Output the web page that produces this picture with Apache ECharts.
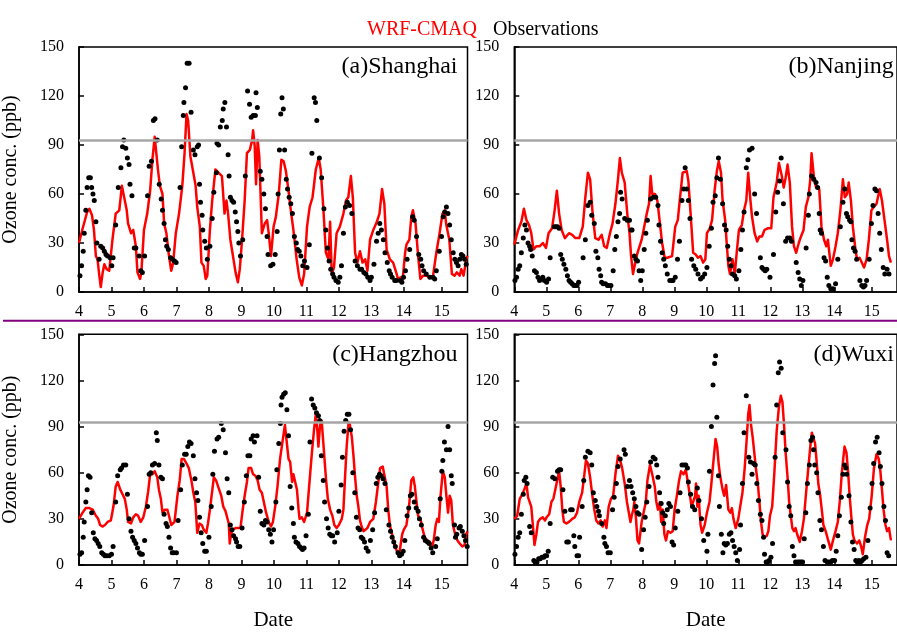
<!DOCTYPE html>
<html>
<head>
<meta charset="utf-8">
<script src="https://cdn.jsdelivr.net/npm/echarts@6/dist/echarts.min.js"></script>
<style>
  html, body { margin: 0; padding: 0; background: #fff; }
  #chart { width: 897px; height: 632px; }
</style>
</head>
<body>
<div id="chart"></div>
<script>
// Day-of-month ticks on the time axis (the last one sits a little past noon of the 15th)
const dayTicks = [4, 5, 6, 7, 8, 9, 10, 11, 12, 13, 14, 15.17];
const dayTickLabels = ['4', '5', '6', '7', '8', '9', '10', '11', '12', '13', '14', '15'];
const dayMin = 4;
const dayMax = 15.96;

// Ozone axis (ppb) and the hourly standard line
const ozoneMin = 0;
const ozoneMax = 150;
const ozoneStep = 30;
const standardPpb = 93;

const stationTitles = ['(a)Shanghai', '(b)Nanjing', '(c)Hangzhou', '(d)Wuxi'];
const modelName = 'WRF-CMAQ';
const obsName = 'Observations';

// [day, ppb] — simulated (WRF-CMAQ) and observed ozone, per station
const shanghaiModel = [[4.00,30],[4.10,38],[4.25,49],[4.32,51],[4.40,47],[4.46,38],[4.52,22],[4.57,20],[4.62,11],[4.67,3],[4.73,12],[4.78,17],[4.85,14],[4.93,13],[5.03,32],[5.13,48],[5.24,50],[5.32,65],[5.41,56],[5.47,50],[5.51,42],[5.60,36],[5.67,38],[5.75,28],[5.80,12],[5.88,8],[5.92,12],[6.00,38],[6.10,48],[6.19,62],[6.26,81],[6.33,95],[6.39,83],[6.43,75],[6.49,65],[6.57,60],[6.62,42],[6.69,36],[6.77,22],[6.84,13],[6.90,18],[6.98,36],[7.08,48],[7.18,65],[7.25,85],[7.31,109],[7.36,105],[7.43,83],[7.52,73],[7.59,65],[7.64,52],[7.72,40],[7.77,18],[7.84,16],[7.90,8],[7.95,10],[8.03,38],[8.10,56],[8.20,75],[8.30,73],[8.40,71],[8.48,48],[8.54,56],[8.59,48],[8.66,32],[8.74,22],[8.82,12],[8.89,6],[8.95,14],[9.02,32],[9.10,56],[9.17,85],[9.26,87],[9.33,93],[9.36,99],[9.41,89],[9.45,66],[9.50,93],[9.55,83],[9.63,36],[9.72,42],[9.79,44],[9.84,36],[9.91,22],[9.99,40],[10.06,46],[10.15,60],[10.23,81],[10.30,80],[10.37,74],[10.45,62],[10.52,50],[10.60,38],[10.70,20],[10.78,9],[10.86,4],[10.93,11],[11.02,40],[11.10,52],[11.19,58],[11.29,75],[11.38,82],[11.44,75],[11.52,52],[11.60,24],[11.68,20],[11.73,43],[11.78,11],[11.85,15],[11.93,36],[12.03,40],[12.14,48],[12.22,56],[12.29,58],[12.37,71],[12.43,58],[12.50,24],[12.57,18],[12.65,25],[12.73,18],[12.81,20],[12.88,13],[12.96,32],[13.06,38],[13.17,43],[13.25,48],[13.33,63],[13.40,54],[13.47,26],[13.57,20],[13.67,18],[13.75,13],[13.82,8],[13.90,9],[13.96,7],[14.04,24],[14.08,29],[14.17,32],[14.23,46],[14.28,50],[14.36,42],[14.44,22],[14.51,8],[14.59,10],[14.69,10],[14.80,9],[14.90,10],[15.00,24],[15.10,36],[15.19,48],[15.26,50],[15.30,42],[15.40,32],[15.48,11],[15.56,10],[15.63,12],[15.72,10],[15.77,14],[15.84,10],[15.92,20],[15.96,22]];
const shanghaiObs = [[4.03,10],[4.08,16],[4.13,25],[4.16,36],[4.21,50],[4.25,64],[4.30,70],[4.35,70],[4.39,64],[4.43,60],[4.47,56],[4.52,43],[4.55,30],[4.62,20],[4.67,28],[4.73,27],[4.78,25],[4.83,23],[4.88,22],[4.96,21],[5.01,16],[5.05,21],[5.13,41],[5.21,64],[5.29,76],[5.34,89],[5.38,93],[5.44,88],[5.49,82],[5.54,78],[5.57,66],[5.63,59],[5.70,27],[5.75,27],[5.85,22],[5.90,13],[5.95,12],[6.02,22],[6.11,59],[6.16,77],[6.23,80],[6.29,105],[6.34,106],[6.41,93],[6.47,66],[6.53,57],[6.57,50],[6.62,42],[6.66,32],[6.70,28],[6.75,26],[6.82,21],[6.87,20],[6.94,19],[6.99,18],[7.11,64],[7.16,89],[7.21,108],[7.23,116],[7.28,125],[7.33,140],[7.39,140],[7.45,110],[7.52,87],[7.57,84],[7.64,89],[7.68,90],[7.71,66],[7.74,55],[7.79,47],[7.81,38],[7.87,31],[7.92,27],[7.95,20],[8.03,28],[8.10,45],[8.15,61],[8.23,73],[8.25,91],[8.30,90],[8.35,101],[8.41,105],[8.44,112],[8.49,116],[8.54,101],[8.59,84],[8.62,71],[8.66,58],[8.71,56],[8.76,55],[8.81,49],[8.85,43],[8.89,37],[8.92,30],[8.97,22],[9.04,32],[9.12,71],[9.19,123],[9.25,115],[9.30,107],[9.36,108],[9.43,108],[9.45,122],[9.49,113],[9.58,74],[9.63,69],[9.69,60],[9.74,51],[9.79,34],[9.82,23],[9.90,16],[9.97,17],[10.04,23],[10.10,37],[10.13,60],[10.17,87],[10.21,109],[10.25,119],[10.29,112],[10.33,87],[10.38,69],[10.42,63],[10.47,58],[10.52,54],[10.57,48],[10.63,34],[10.69,30],[10.73,26],[10.78,25],[10.83,22],[10.89,16],[10.94,19],[11.02,15],[11.09,29],[11.17,85],[11.24,119],[11.28,116],[11.32,105],[11.40,82],[11.47,70],[11.54,51],[11.60,38],[11.65,27],[11.70,19],[11.75,14],[11.81,11],[11.85,9],[11.91,7],[11.98,6],[12.03,9],[12.08,16],[12.14,36],[12.20,52],[12.26,55],[12.33,53],[12.40,48],[12.50,19],[12.57,16],[12.65,14],[12.70,14],[12.77,12],[12.83,11],[12.89,9],[12.96,7],[13.00,9],[13.08,17],[13.16,31],[13.21,36],[13.26,42],[13.31,38],[13.37,32],[13.42,24],[13.49,18],[13.55,13],[13.59,11],[13.64,9],[13.72,7],[13.77,7],[13.89,7],[13.94,6],[13.99,9],[14.05,13],[14.10,20],[14.18,26],[14.27,46],[14.32,44],[14.39,34],[14.46,23],[14.52,20],[14.56,16],[14.61,13],[14.69,11],[14.80,9],[14.90,9],[14.95,8],[15.00,13],[15.09,25],[15.16,34],[15.21,46],[15.26,49],[15.31,52],[15.36,48],[15.41,41],[15.46,32],[15.52,24],[15.57,20],[15.62,18],[15.67,16],[15.72,20],[15.77,23],[15.82,22],[15.87,20],[15.92,17]];

const nanjingModel = [[4.00,29],[4.12,38],[4.22,43],[4.30,51],[4.38,44],[4.46,41],[4.53,36],[4.60,26],[4.69,28],[4.79,28],[4.89,30],[4.99,27],[5.07,36],[5.18,39],[5.26,50],[5.33,62],[5.40,48],[5.48,38],[5.58,33],[5.71,36],[5.81,35],[5.91,33],[6.03,33],[6.14,40],[6.22,58],[6.30,73],[6.37,69],[6.44,50],[6.53,33],[6.63,32],[6.73,35],[6.81,28],[6.89,27],[6.99,36],[7.07,42],[7.16,54],[7.24,69],[7.30,82],[7.36,73],[7.45,67],[7.53,48],[7.60,36],[7.65,22],[7.71,11],[7.78,18],[7.85,24],[7.90,24],[7.98,32],[8.06,40],[8.14,48],[8.21,54],[8.26,71],[8.31,60],[8.40,60],[8.47,56],[8.54,44],[8.62,30],[8.70,21],[8.78,21],[8.93,22],[9.03,40],[9.11,44],[9.18,58],[9.26,73],[9.32,73],[9.39,74],[9.44,68],[9.51,48],[9.59,24],[9.67,23],[9.74,21],[9.82,22],[9.90,18],[9.97,20],[10.02,36],[10.11,39],[10.18,44],[10.26,62],[10.33,74],[10.39,80],[10.46,73],[10.51,56],[10.59,44],[10.63,32],[10.69,16],[10.74,11],[10.82,20],[10.89,11],[10.95,24],[11.02,38],[11.11,41],[11.18,50],[11.25,56],[11.31,73],[11.38,56],[11.43,46],[11.51,36],[11.59,31],[11.66,34],[11.74,34],[11.82,38],[11.92,39],[12.03,39],[12.10,58],[12.20,67],[12.27,79],[12.36,71],[12.42,64],[12.48,70],[12.54,78],[12.61,67],[12.68,40],[12.74,28],[12.81,24],[12.89,30],[12.96,34],[13.04,38],[13.11,52],[13.19,58],[13.25,69],[13.29,85],[13.36,71],[13.43,64],[13.48,65],[13.53,63],[13.60,40],[13.68,32],[13.75,28],[13.80,32],[13.89,16],[13.96,20],[14.04,28],[14.11,36],[14.19,50],[14.27,69],[14.33,58],[14.40,60],[14.45,67],[14.52,56],[14.58,40],[14.65,28],[14.71,20],[14.79,21],[14.86,18],[14.93,15],[15.01,20],[15.08,32],[15.16,50],[15.23,52],[15.32,54],[15.42,63],[15.49,56],[15.57,44],[15.65,32],[15.71,22],[15.77,18]];
const nanjingObs = [[4.02,7],[4.07,9],[4.12,14],[4.17,16],[4.22,24],[4.28,33],[4.33,41],[4.38,38],[4.43,30],[4.48,28],[4.51,26],[4.56,22],[4.63,13],[4.69,12],[4.74,9],[4.79,7],[4.84,8],[4.89,9],[4.94,7],[5.01,6],[5.07,8],[5.12,21],[5.25,40],[5.30,40],[5.35,40],[5.40,39],[5.45,23],[5.50,20],[5.55,17],[5.61,14],[5.66,10],[5.71,7],[5.76,6],[5.81,5],[5.86,4],[5.91,4],[5.96,4],[6.01,6],[6.15,21],[6.22,32],[6.30,53],[6.37,55],[6.42,47],[6.50,42],[6.55,25],[6.61,21],[6.65,14],[6.70,10],[6.73,6],[6.78,5],[6.85,5],[6.91,4],[6.95,4],[7.02,4],[7.09,13],[7.14,26],[7.19,34],[7.24,43],[7.29,48],[7.32,61],[7.37,57],[7.45,45],[7.53,44],[7.60,44],[7.65,38],[7.68,38],[7.75,22],[7.80,20],[7.85,19],[7.90,13],[7.95,7],[8.00,13],[8.06,26],[8.11,36],[8.16,44],[8.26,57],[8.34,58],[8.42,58],[8.49,53],[8.52,41],[8.57,31],[8.62,24],[8.67,20],[8.72,16],[8.78,11],[8.86,7],[8.93,7],[8.96,7],[9.03,9],[9.10,20],[9.16,31],[9.24,56],[9.29,63],[9.34,76],[9.39,63],[9.44,56],[9.49,45],[9.54,20],[9.61,16],[9.67,14],[9.74,11],[9.82,8],[9.88,9],[9.95,11],[10.02,15],[10.09,28],[10.16,39],[10.21,55],[10.28,59],[10.33,70],[10.38,82],[10.44,69],[10.51,54],[10.57,41],[10.62,38],[10.67,28],[10.72,20],[10.77,16],[10.82,11],[10.89,10],[10.94,8],[11.02,13],[11.08,26],[11.13,38],[11.18,49],[11.25,76],[11.30,81],[11.35,87],[11.43,88],[11.51,60],[11.57,48],[11.69,21],[11.74,15],[11.79,14],[11.84,13],[11.89,14],[11.99,9],[12.10,23],[12.17,49],[12.23,61],[12.29,68],[12.34,82],[12.41,54],[12.48,31],[12.54,33],[12.61,33],[12.66,31],[12.81,18],[12.87,12],[12.92,8],[12.97,4],[13.02,7],[13.12,27],[13.19,47],[13.22,60],[13.29,71],[13.36,69],[13.43,67],[13.48,64],[13.53,48],[13.56,38],[13.60,36],[13.68,21],[13.73,19],[13.78,9],[13.83,4],[13.89,2],[13.96,2],[14.04,5],[14.11,20],[14.19,40],[14.27,55],[14.33,63],[14.38,48],[14.42,46],[14.48,44],[14.52,43],[14.55,32],[14.60,27],[14.65,25],[14.70,20],[14.80,7],[14.86,4],[14.91,3],[14.96,4],[15.01,7],[15.09,20],[15.16,42],[15.21,53],[15.27,63],[15.32,62],[15.37,48],[15.42,36],[15.47,26],[15.53,15],[15.58,11],[15.65,14],[15.71,11]];

const hangzhouModel = [[4.00,30],[4.11,34],[4.21,37],[4.32,37],[4.42,36],[4.52,32],[4.59,30],[4.65,26],[4.73,25],[4.80,26],[4.88,28],[4.98,29],[5.06,38],[5.13,51],[5.19,54],[5.27,49],[5.34,46],[5.41,43],[5.47,36],[5.51,28],[5.60,27],[5.67,31],[5.75,33],[5.82,32],[5.90,28],[5.98,31],[6.06,38],[6.13,48],[6.19,59],[6.26,59],[6.33,61],[6.41,57],[6.46,49],[6.52,43],[6.57,34],[6.64,36],[6.72,36],[6.77,32],[6.84,26],[6.90,25],[6.94,28],[7.03,45],[7.10,55],[7.16,69],[7.23,69],[7.31,66],[7.38,63],[7.46,55],[7.52,47],[7.58,41],[7.64,21],[7.71,27],[7.78,26],[7.84,23],[7.92,21],[7.97,27],[8.03,36],[8.10,48],[8.15,57],[8.22,55],[8.30,50],[8.38,45],[8.44,38],[8.51,35],[8.56,36],[8.61,27],[8.64,14],[8.68,20],[8.73,23],[8.82,24],[8.89,24],[8.97,24],[9.04,36],[9.10,45],[9.17,54],[9.22,63],[9.30,63],[9.36,59],[9.43,58],[9.50,55],[9.56,49],[9.63,47],[9.69,41],[9.76,34],[9.84,28],[9.91,25],[9.97,28],[10.04,38],[10.11,51],[10.19,69],[10.27,81],[10.34,91],[10.40,79],[10.45,69],[10.50,67],[10.56,54],[10.60,59],[10.66,60],[10.71,49],[10.76,36],[10.79,30],[10.86,31],[10.93,28],[11.02,34],[11.10,55],[11.17,73],[11.24,89],[11.29,98],[11.34,87],[11.37,77],[11.42,91],[11.47,94],[11.53,77],[11.60,57],[11.66,43],[11.73,36],[11.80,32],[11.86,26],[11.93,24],[12.00,26],[12.09,30],[12.14,36],[12.19,57],[12.24,77],[12.30,93],[12.34,91],[12.40,83],[12.45,71],[12.50,57],[12.55,45],[12.60,38],[12.65,29],[12.70,25],[12.76,22],[12.81,21],[12.88,24],[12.96,28],[13.06,30],[13.14,41],[13.21,53],[13.27,63],[13.35,64],[13.41,63],[13.47,51],[13.52,36],[13.57,26],[13.66,18],[13.72,12],[13.79,9],[13.85,6],[13.91,7],[13.95,20],[14.00,23],[14.08,26],[14.16,38],[14.23,55],[14.29,57],[14.34,51],[14.39,41],[14.44,32],[14.51,30],[14.57,24],[14.64,18],[14.72,16],[14.80,15],[14.87,12],[14.92,16],[14.98,26],[15.03,30],[15.08,28],[15.13,45],[15.20,61],[15.26,57],[15.31,45],[15.36,34],[15.41,45],[15.46,42],[15.51,26],[15.58,20],[15.65,16],[15.72,14],[15.80,12],[15.87,13],[15.92,20],[15.96,22]];
const hangzhouObs = [[4.03,7],[4.08,8],[4.13,18],[4.16,28],[4.21,41],[4.25,49],[4.29,58],[4.34,57],[4.39,34],[4.44,21],[4.49,17],[4.54,16],[4.59,14],[4.64,12],[4.70,8],[4.75,7],[4.80,6],[4.86,6],[4.93,6],[5.00,7],[5.05,12],[5.13,41],[5.19,58],[5.27,62],[5.31,63],[5.37,65],[5.44,65],[5.49,46],[5.54,30],[5.60,22],[5.65,18],[5.70,16],[5.75,14],[5.80,11],[5.86,8],[5.90,7],[5.95,7],[6.02,16],[6.11,38],[6.16,59],[6.21,60],[6.26,65],[6.33,66],[6.38,86],[6.41,81],[6.46,65],[6.52,57],[6.57,56],[6.62,33],[6.68,27],[6.72,25],[6.77,18],[6.82,11],[6.87,8],[6.92,8],[7.00,8],[7.05,29],[7.13,49],[7.18,65],[7.25,72],[7.30,72],[7.35,77],[7.40,80],[7.45,79],[7.52,71],[7.57,56],[7.62,47],[7.66,42],[7.71,31],[7.76,21],[7.81,14],[7.87,9],[7.92,9],[8.00,18],[8.07,38],[8.12,59],[8.17,74],[8.25,82],[8.30,83],[8.38,92],[8.44,88],[8.51,73],[8.56,56],[8.61,47],[8.66,26],[8.71,23],[8.76,19],[8.82,17],[8.85,15],[8.90,12],[8.95,12],[9.02,24],[9.09,41],[9.15,58],[9.20,71],[9.26,71],[9.30,82],[9.36,84],[9.40,80],[9.48,84],[9.53,57],[9.58,35],[9.63,27],[9.69,26],[9.74,29],[9.79,28],[9.84,23],[9.89,20],[9.94,15],[9.99,23],[10.06,41],[10.09,62],[10.15,79],[10.20,92],[10.22,104],[10.25,109],[10.30,111],[10.35,112],[10.40,101],[10.45,84],[10.50,51],[10.55,37],[10.60,27],[10.63,18],[10.68,15],[10.74,14],[10.79,12],[10.84,11],[10.88,10],[10.93,11],[10.99,19],[11.06,33],[11.11,80],[11.16,108],[11.21,104],[11.26,102],[11.31,99],[11.37,97],[11.41,94],[11.46,71],[11.52,55],[11.56,41],[11.62,30],[11.67,24],[11.72,20],[11.77,19],[11.81,19],[11.87,15],[11.95,21],[12.00,35],[12.07,52],[12.11,70],[12.16,87],[12.21,94],[12.26,98],[12.31,98],[12.36,88],[12.43,60],[12.49,47],[12.54,31],[12.59,24],[12.64,23],[12.69,18],[12.74,17],[12.79,15],[12.84,11],[12.90,9],[12.97,16],[13.04,23],[13.10,34],[13.15,53],[13.20,57],[13.25,59],[13.30,58],[13.36,56],[13.42,53],[13.46,36],[13.54,26],[13.59,22],[13.64,18],[13.69,15],[13.74,12],[13.82,8],[13.87,6],[13.93,7],[13.98,9],[14.03,16],[14.10,32],[14.15,37],[14.20,45],[14.25,46],[14.32,41],[14.38,37],[14.44,35],[14.48,30],[14.54,26],[14.61,18],[14.66,16],[14.73,15],[14.78,14],[14.84,11],[14.89,8],[14.98,12],[15.03,17],[15.12,43],[15.17,61],[15.20,68],[15.25,80],[15.31,75],[15.36,90],[15.41,75],[15.46,58],[15.49,53],[15.56,26],[15.59,18],[15.63,20],[15.70,24],[15.74,25],[15.80,22],[15.85,19],[15.90,16],[15.95,12]];

const wuxiModel = [[4.00,30],[4.09,32],[4.17,43],[4.25,46],[4.31,49],[4.38,53],[4.43,44],[4.48,43],[4.53,38],[4.58,26],[4.63,13],[4.69,20],[4.74,28],[4.81,30],[4.89,31],[4.96,29],[5.01,31],[5.09,33],[5.16,41],[5.22,43],[5.28,49],[5.34,55],[5.40,61],[5.45,51],[5.50,36],[5.55,28],[5.63,27],[5.71,28],[5.81,30],[5.89,31],[5.96,34],[6.03,41],[6.12,47],[6.19,59],[6.24,68],[6.30,66],[6.37,57],[6.44,45],[6.50,36],[6.56,29],[6.63,27],[6.70,29],[6.76,25],[6.83,29],[6.88,24],[6.95,38],[7.02,43],[7.09,45],[7.16,59],[7.24,71],[7.31,68],[7.37,63],[7.45,53],[7.52,41],[7.58,34],[7.63,28],[7.68,33],[7.72,36],[7.75,41],[7.80,31],[7.85,16],[7.90,14],[7.98,28],[8.04,34],[8.11,41],[8.16,55],[8.24,65],[8.31,59],[8.39,51],[8.44,41],[8.49,36],[8.55,41],[8.59,28],[8.64,36],[8.69,20],[8.74,16],[8.80,22],[8.88,21],[8.95,22],[9.01,36],[9.08,45],[9.15,55],[9.21,61],[9.29,59],[9.36,62],[9.42,63],[9.49,45],[9.54,38],[9.60,37],[9.65,45],[9.68,53],[9.72,38],[9.76,45],[9.82,26],[9.87,21],[9.95,26],[10.02,34],[10.10,41],[10.16,53],[10.23,69],[10.29,82],[10.34,77],[10.39,65],[10.44,57],[10.51,49],[10.56,45],[10.62,52],[10.69,36],[10.75,34],[10.80,37],[10.85,30],[10.92,24],[11.00,30],[11.06,38],[11.13,47],[11.20,63],[11.26,81],[11.31,98],[11.35,104],[11.40,91],[11.45,83],[11.50,73],[11.55,63],[11.61,53],[11.66,41],[11.71,28],[11.76,20],[11.81,18],[11.89,19],[11.94,22],[11.99,32],[12.06,38],[12.13,61],[12.20,87],[12.27,103],[12.33,110],[12.38,106],[12.43,91],[12.48,73],[12.54,57],[12.59,41],[12.64,32],[12.69,24],[12.74,22],[12.79,24],[12.84,20],[12.92,15],[12.99,22],[13.05,30],[13.11,45],[13.18,61],[13.25,77],[13.30,86],[13.35,87],[13.40,79],[13.45,67],[13.50,53],[13.56,45],[13.62,34],[13.66,26],[13.73,22],[13.81,16],[13.89,10],[13.96,16],[14.04,22],[14.11,28],[14.17,41],[14.24,61],[14.32,77],[14.38,73],[14.43,61],[14.48,45],[14.53,32],[14.58,20],[14.63,16],[14.71,14],[14.78,16],[14.84,12],[14.89,7],[14.96,18],[15.03,26],[15.09,30],[15.17,45],[15.24,63],[15.32,72],[15.39,69],[15.44,61],[15.49,49],[15.54,36],[15.60,26],[15.65,22],[15.71,24],[15.77,16]];
const wuxiObs = [[4.02,7],[4.07,12],[4.12,18],[4.17,21],[4.22,33],[4.28,46],[4.31,55],[4.36,57],[4.40,53],[4.48,25],[4.53,21],[4.61,3],[4.65,2],[4.71,2],[4.76,4],[4.81,4],[4.86,5],[4.92,5],[4.96,6],[5.01,6],[5.06,9],[5.12,27],[5.20,57],[5.27,56],[5.35,61],[5.40,62],[5.45,62],[5.52,49],[5.58,35],[5.64,15],[5.69,15],[5.76,36],[5.81,36],[5.86,19],[5.89,12],[5.96,6],[6.01,6],[6.04,18],[6.12,38],[6.17,55],[6.22,70],[6.30,74],[6.37,73],[6.42,65],[6.47,47],[6.53,42],[6.58,38],[6.63,35],[6.66,32],[6.73,27],[6.80,18],[6.83,14],[6.88,12],[6.93,8],[7.00,8],[7.07,36],[7.12,44],[7.19,53],[7.24,64],[7.31,69],[7.43,75],[7.47,72],[7.53,51],[7.60,55],[7.65,51],[7.70,47],[7.75,43],[7.80,38],[7.85,34],[7.90,33],[7.98,10],[8.04,23],[8.09,31],[8.14,41],[8.21,51],[8.26,67],[8.34,70],[8.40,69],[8.45,65],[8.49,57],[8.54,47],[8.59,40],[8.64,34],[8.67,27],[8.72,32],[8.78,36],[8.83,40],[8.88,38],[8.93,15],[8.98,13],[9.03,24],[9.11,35],[9.18,47],[9.24,65],[9.31,65],[9.36,65],[9.41,63],[9.44,54],[9.51,46],[9.57,38],[9.64,36],[9.72,50],[9.77,42],[9.85,30],[9.92,16],[10.02,9],[10.05,20],[10.10,61],[10.16,90],[10.21,117],[10.26,131],[10.29,136],[10.33,96],[10.38,58],[10.41,38],[10.47,20],[10.52,8],[10.56,14],[10.61,13],[10.66,14],[10.72,20],[10.77,21],[10.82,16],[10.87,12],[10.92,8],[10.97,3],[11.04,10],[11.07,26],[11.13,53],[11.18,86],[11.25,110],[11.33,70],[11.38,67],[11.43,59],[11.48,66],[11.53,65],[11.58,53],[11.63,42],[11.69,33],[11.74,29],[11.79,18],[11.82,7],[11.87,2],[11.92,2],[11.96,3],[12.02,5],[12.07,14],[12.15,70],[12.20,104],[12.25,125],[12.29,132],[12.34,128],[12.39,86],[12.49,75],[12.54,54],[12.59,38],[12.64,32],[12.69,12],[12.74,6],[12.79,2],[12.86,2],[12.91,2],[12.96,2],[13.01,2],[13.06,17],[13.11,34],[13.16,53],[13.22,65],[13.27,81],[13.32,83],[13.35,75],[13.39,65],[13.45,60],[13.49,47],[13.55,29],[13.60,23],[13.66,12],[13.71,3],[13.78,2],[13.83,2],[13.89,2],[13.94,3],[14.01,3],[14.06,9],[14.11,19],[14.16,32],[14.22,44],[14.27,59],[14.32,65],[14.36,63],[14.39,59],[14.46,45],[14.52,28],[14.57,15],[14.62,10],[14.67,3],[14.72,2],[14.77,3],[14.82,2],[14.87,3],[14.92,4],[14.99,5],[15.05,16],[15.12,37],[15.18,53],[15.23,66],[15.29,80],[15.34,83],[15.40,73],[15.44,64],[15.49,53],[15.55,38],[15.60,29],[15.65,8],[15.70,6]];

const modelSeries = [shanghaiModel, nanjingModel, hangzhouModel, wuxiModel];
const obsSeries = [shanghaiObs, nanjingObs, hangzhouObs, wuxiObs];

// Panel layout: 2 x 2 plot boxes (the right column runs past the page edge)
const FONT = '"Liberation Serif", "Times New Roman", serif';
const panelLeft = [78, 514.3, 78, 514.3];
const panelTop = [47, 47, 334.3, 334.3];
const panelW = 389.5;
const panelH = 245;

const grids = [], xAxes = [], yAxes = [], series = [], graphics = [];

for (let i = 0; i < 4; i++) {
  const isLeft = i % 2 === 0;
  const isBottom = i >= 2;

  grids.push({
    left: panelLeft[i], top: panelTop[i], width: panelW, height: panelH,
    show: true, borderColor: '#000', borderWidth: 1.5, backgroundColor: 'transparent'
  });

  xAxes.push({
    gridIndex: i, type: 'value', min: dayMin, max: dayMax,
    axisLine: { show: true, onZero: false, lineStyle: { color: '#000', width: 1.5 } },
    axisTick: { show: true, inside: true, length: 5, customValues: dayTicks,
                lineStyle: { color: '#000', width: 1.5 } },
    axisLabel: {
      customValues: dayTicks, margin: 12, color: '#000', fontFamily: FONT, fontSize: 16,
      formatter: v => dayTickLabels[dayTicks.indexOf(v)] ?? String(Math.floor(v + 1e-6))
    },
    splitLine: { show: false },
    name: isBottom ? 'Date' : '', nameLocation: 'middle', nameGap: 45,
    nameTextStyle: { color: '#000', fontFamily: FONT, fontSize: 21 }
  });

  yAxes.push({
    gridIndex: i, type: 'value', min: ozoneMin, max: ozoneMax, interval: ozoneStep,
    axisLine: { show: true, lineStyle: { color: '#000', width: 1.5 } },
    axisTick: { show: true, inside: true, length: 5, lineStyle: { color: '#000', width: 1.5 } },
    axisLabel: { margin: 15, color: '#000', fontFamily: FONT, fontSize: 16 },
    splitLine: { show: false },
    name: isLeft ? 'Ozone conc. (ppb)' : '', nameLocation: 'middle', nameGap: 58,
    nameTextStyle: { color: '#000', fontFamily: FONT, fontSize: 20 }
  });

  // grey standard line underneath the data
  series.push({
    type: 'line', xAxisIndex: i, yAxisIndex: i, data: [], z: 1, silent: true,
    markLine: {
      silent: true, symbol: 'none', label: { show: false }, animation: false,
      lineStyle: { color: '#a6a6a6', width: 2.5, type: 'solid' },
      data: [{ yAxis: standardPpb }]
    }
  });

  series.push({
    name: modelName, type: 'line', xAxisIndex: i, yAxisIndex: i,
    data: modelSeries[i], showSymbol: false, symbol: 'none', z: 3,
    lineStyle: { color: '#ff0000', width: 2.5, join: 'round' },
    itemStyle: { color: '#ff0000' }
  });

  series.push({
    name: obsName, type: 'scatter', xAxisIndex: i, yAxisIndex: i,
    data: obsSeries[i], symbolSize: 5, z: 4,
    itemStyle: { color: '#000', opacity: 1 }
  });

  graphics.push({
    type: 'text',
    x: panelLeft[i] + panelW - 10, y: panelTop[i] + 20,
    style: { text: stationTitles[i], textAlign: 'right', textVerticalAlign: 'middle',
             font: '24px ' + FONT, fill: '#000' }
  });
}

// purple divider between the upper and lower rows
graphics.push({
  type: 'line', shape: { x1: 3, y1: 320.7, x2: 897, y2: 320.7 },
  style: { stroke: '#800080', lineWidth: 2 }
});

const chart = echarts.init(document.getElementById('chart'), null, { renderer: 'canvas' });
chart.setOption({
  animation: false,
  backgroundColor: '#fff',
  legend: {
    left: 356, top: 15, itemWidth: 0, itemHeight: 0, itemGap: 11, selectedMode: false,
    textStyle: { fontFamily: FONT, fontSize: 20 },
    data: [
      { name: modelName, textStyle: { color: '#ff0000' } },
      { name: obsName, textStyle: { color: '#000' } }
    ]
  },
  grid: grids,
  xAxis: xAxes,
  yAxis: yAxes,
  series: series,
  graphic: graphics
});
</script>
</body>
</html>
